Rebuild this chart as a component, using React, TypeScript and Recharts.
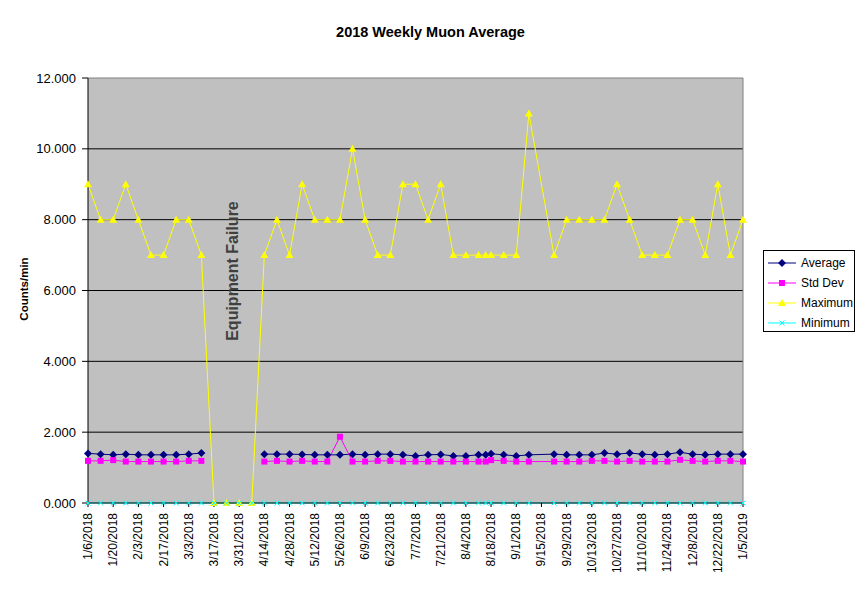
import React from 'react';
import { LineChart, Line, XAxis, YAxis, CartesianGrid, ReferenceLine, ReferenceDot, Legend, Label } from 'recharts';

const FONT = 'Arial, "Liberation Sans", sans-serif';

// one entry per reading
const weekDates = [
  '1/6/2018', '1/13/2018', '1/20/2018', '1/27/2018', '2/3/2018', '2/10/2018', '2/17/2018', '2/24/2018',
  '3/3/2018', '3/10/2018', '3/17/2018', '3/24/2018', '3/31/2018', '4/7/2018', '4/14/2018', '4/21/2018',
  '4/28/2018', '5/5/2018', '5/12/2018', '5/19/2018', '5/26/2018', '6/2/2018', '6/9/2018', '6/16/2018',
  '6/23/2018', '6/30/2018', '7/7/2018', '7/14/2018', '7/21/2018', '7/28/2018', '8/4/2018', '8/11/2018',
  '8/15/2018', '8/18/2018', '8/25/2018', '9/1/2018', '9/8/2018', '9/22/2018', '9/29/2018', '10/6/2018',
  '10/13/2018', '10/20/2018', '10/27/2018', '11/3/2018', '11/10/2018', '11/17/2018', '11/24/2018', '12/1/2018',
  '12/8/2018', '12/15/2018', '12/22/2018', '12/29/2018', '1/5/2019',
];

const averageValues = [
  1.40, 1.38, 1.36, 1.38, 1.36, 1.36, 1.36, 1.36, 1.38, 1.41,
  null, null, null, null,
  1.38, 1.38, 1.38, 1.37, 1.36, 1.36, 1.36, 1.38, 1.36, 1.38, 1.38, 1.36, 1.33, 1.36, 1.37, 1.33, 1.33, 1.36,
  1.36, 1.39, 1.36, 1.33, 1.36,
  1.38, 1.36, 1.36, 1.36, 1.41, 1.38, 1.41, 1.38, 1.36, 1.38, 1.43, 1.38, 1.36, 1.38, 1.38, 1.38,
];

const stdDevValues = [
  1.19, 1.19, 1.21, 1.17, 1.17, 1.17, 1.17, 1.17, 1.19, 1.19,
  null, null, null, null,
  1.17, 1.19, 1.17, 1.19, 1.17, 1.17, 1.87, 1.17, 1.17, 1.19, 1.19, 1.17, 1.17, 1.17, 1.17, 1.17, 1.17, 1.17,
  1.17, 1.21, 1.19, 1.17, 1.17,
  1.17, 1.17, 1.17, 1.19, 1.19, 1.17, 1.19, 1.17, 1.17, 1.17, 1.22, 1.19, 1.17, 1.19, 1.19, 1.17,
];

const maximumValues = [
  9, 8, 8, 9, 8, 7, 7, 8, 8, 7,
  0, 0, 0, 0,
  7, 8, 7, 9, 8, 8, 8, 10, 8, 7, 7, 9, 9, 8, 9, 7, 7, 7,
  7, 7, 7, 7, 11,
  7, 8, 8, 8, 8, 9, 8, 7, 7, 7, 8, 8, 7, 9, 7, 8,
];

const minimumValues = [
  0, 0, 0, 0, 0, 0, 0, 0, 0, 0,
  0, 0, 0, 0,
  0, 0, 0, 0, 0, 0, 0, 0, 0, 0, 0, 0, 0, 0, 0, 0, 0, 0,
  0, 0, 0, 0, 0,
  0, 0, 0, 0, 0, 0, 0, 0, 0, 0, 0, 0, 0, 0, 0, 0,
];

const xTickLabels = [
  '1/6/2018', '1/20/2018', '2/3/2018', '2/17/2018', '3/3/2018', '3/17/2018', '3/31/2018', '4/14/2018',
  '4/28/2018', '5/12/2018', '5/26/2018', '6/9/2018', '6/23/2018', '7/7/2018', '7/21/2018', '8/4/2018',
  '8/18/2018', '9/1/2018', '9/15/2018', '9/29/2018', '10/13/2018', '10/27/2018', '11/10/2018', '11/24/2018',
  '12/8/2018', '12/22/2018', '1/5/2019',
];

const yTicks = [0, 2, 4, 6, 8, 10, 12];

const seriesOrder = ['average', 'stdDev', 'maximum', 'minimum'];

// days counted from the first reading
const START = Date.UTC(2018, 0, 6);
const toDay = (s: string) => {
  const [m, d, y] = s.split('/').map(Number);
  return Math.round((Date.UTC(y, m - 1, d) - START) / 86400000);
};

const data = weekDates.map((d, i) => ({
  day: toDay(d),
  average: averageValues[i],
  stdDev: stdDevValues[i],
  maximum: maximumValues[i],
  minimum: minimumValues[i],
}));

const xTicks = xTickLabels.map(toDay);
const labelByDay = new Map(xTicks.map((t, i) => [t, xTickLabels[i]]));
const lastDay = xTicks[xTicks.length - 1];

const COLORS = {
  average: '#000080',
  stdDev: '#FF00FF',
  maximum: '#FFFF00',
  minimum: '#00FFFF',
};

const Diamond = ({ cx, cy, fill }: any) => {
  if (cx == null || cy == null) return null;
  return <polygon points={`${cx},${cy - 4} ${cx + 4},${cy} ${cx},${cy + 4} ${cx - 4},${cy}`} fill={fill} />;
};

const Square = ({ cx, cy, fill }: any) => {
  if (cx == null || cy == null) return null;
  return <rect x={cx - 3} y={cy - 3} width={6} height={6} fill={fill} />;
};

const Triangle = ({ cx, cy, fill }: any) => {
  if (cx == null || cy == null) return null;
  return <polygon points={`${cx},${cy - 4} ${cx + 4},${cy + 3} ${cx - 4},${cy + 3}`} fill={fill} />;
};

const Cross = ({ cx, cy, fill }: any) => {
  if (cx == null || cy == null) return null;
  return (
    <path d={`M${cx - 2.5},${cy - 2.5}L${cx + 2.5},${cy + 2.5}M${cx + 2.5},${cy - 2.5}L${cx - 2.5},${cy + 2.5}`} stroke={fill} strokeWidth={1} />
  );
};

const markers: Record<string, any> = {
  average: Diamond,
  stdDev: Square,
  maximum: Triangle,
  minimum: Cross,
};

const XTick = ({ x, y, payload }: any) => (
  <text
    x={0}
    y={0}
    transform={`translate(${x},${y}) rotate(-90)`}
    textAnchor="end"
    dominantBaseline="central"
    fontSize={12}
    fontFamily={FONT}
    fill="#000"
  >
    {labelByDay.get(payload.value)}
  </text>
);

const LegendBox = ({ payload }: any) => {
  const items = [...(payload || [])].sort(
    (a: any, b: any) => seriesOrder.indexOf(a.dataKey) - seriesOrder.indexOf(b.dataKey)
  );
  return (
    <div
      style={{
        border: '1px solid #000',
        background: '#fff',
        width: 92,
        height: 82,
        boxSizing: 'border-box',
        paddingTop: 2,
        fontFamily: FONT,
        fontSize: 12,
        color: '#000',
      }}
    >
      {items.map((item: any) => {
        const Marker = markers[item.dataKey];
        return (
          <div key={item.dataKey} style={{ display: 'flex', alignItems: 'center', height: 20 }}>
            <svg width={34} height={12} style={{ marginLeft: 3 }}>
              <line x1={1} y1={6} x2={29} y2={6} stroke={item.color} strokeWidth={1} />
              <Marker cx={15} cy={6} fill={item.color} />
            </svg>
            <span>{item.value}</span>
          </div>
        );
      })}
    </div>
  );
};

export default function App() {
  return (
    <div style={{ position: 'absolute', left: 0, top: 0, width: 861, height: 589, background: '#fff', fontFamily: FONT }}>
      <div
        style={{
          position: 'absolute',
          top: 24,
          left: 0,
          width: 861,
          textAlign: 'center',
          fontSize: 14.5,
          fontWeight: 'bold',
          lineHeight: '17px',
          color: '#000',
        }}
      >
        2018 Weekly Muon Average
      </div>
      <LineChart width={861} height={589} data={data} margin={{ top: 78, right: 118, bottom: 0, left: 0 }}>
        <CartesianGrid fill="#C0C0C0" stroke="#000" vertical={false} horizontalValues={[2, 4, 6, 8, 10]} />
        <XAxis
          dataKey="day"
          type="number"
          domain={[0, lastDay]}
          ticks={xTicks}
          interval={0}
          height={86}
          tick={<XTick />}
          tickSize={4}
          tickMargin={6}
          axisLine={{ stroke: '#000' }}
          tickLine={{ stroke: '#000' }}
        />
        <YAxis
          domain={[0, 12]}
          ticks={yTicks}
          interval={0}
          width={88}
          tickFormatter={(v: number) => v.toFixed(3)}
          tick={{ fontSize: 13, fill: '#000', fontFamily: FONT }}
          tickSize={6}
          tickMargin={6}
          axisLine={{ stroke: '#000' }}
          tickLine={{ stroke: '#000' }}
        >
          <Label
            content={() => (
              <text
                x={0}
                y={0}
                transform="translate(24,289) rotate(-90)"
                textAnchor="middle"
                dominantBaseline="central"
                fontSize={11.5}
                fontWeight="bold"
                fontFamily={FONT}
                fill="#000"
              >
                Counts/min
              </text>
            )}
          />
        </YAxis>
        <ReferenceLine y={12} stroke="#808080" />
        <ReferenceLine x={lastDay} stroke="#808080" />
        <ReferenceDot
          x={80.5}
          y={6.55}
          r={0}
          fill="none"
          stroke="none"
          label={{
            content: ({ viewBox }: any) => (
              <text
                x={0}
                y={0}
                transform={`translate(${viewBox.x},${viewBox.y}) rotate(-90)`}
                textAnchor="middle"
                dominantBaseline="central"
                fontSize={16}
                fontWeight="bold"
                fontFamily={FONT}
                fill="#404040"
              >
                Equipment Failure
              </text>
            ),
          }}
        />
        <Line
          type="linear"
          dataKey="average"
          name="Average"
          stroke={COLORS.average}
          strokeWidth={1}
          dot={(p: any) => <Diamond key={p.key} cx={p.cx} cy={p.cy} fill={COLORS.average} />}
          activeDot={false}
          isAnimationActive={false}
        />
        <Line
          type="linear"
          dataKey="stdDev"
          name="Std Dev"
          stroke={COLORS.stdDev}
          strokeWidth={1}
          dot={(p: any) => <Square key={p.key} cx={p.cx} cy={p.cy} fill={COLORS.stdDev} />}
          activeDot={false}
          isAnimationActive={false}
        />
        <Line
          type="linear"
          dataKey="maximum"
          name="Maximum"
          stroke={COLORS.maximum}
          strokeWidth={1}
          dot={(p: any) => <Triangle key={p.key} cx={p.cx} cy={p.cy} fill={COLORS.maximum} />}
          activeDot={false}
          isAnimationActive={false}
        />
        <Line
          type="linear"
          dataKey="minimum"
          name="Minimum"
          stroke={COLORS.minimum}
          strokeWidth={1}
          dot={(p: any) => <Cross key={p.key} cx={p.cx} cy={p.cy} fill={COLORS.minimum} />}
          activeDot={false}
          isAnimationActive={false}
        />
        <Legend
          layout="vertical"
          align="center"
          verticalAlign="middle"
          wrapperStyle={{ left: 763, top: 250, width: 92, height: 82 }}
          content={<LegendBox />}
        />
      </LineChart>
    </div>
  );
}
